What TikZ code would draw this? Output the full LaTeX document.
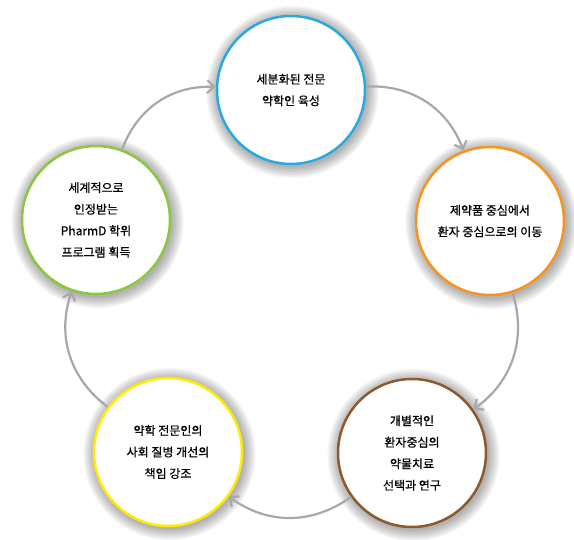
\documentclass[tikz,border=0pt]{standalone}
\usepackage{fontspec}
\setmainfont{Noto Sans CJK KR}[FakeBold=0.8]
\usepackage{xcolor}
\usetikzlibrary{arrows.meta,backgrounds}

\definecolor{ringblue}{HTML}{29A9E1}
\definecolor{ringorange}{HTML}{F7931E}
\definecolor{ringbrown}{HTML}{8C5A2C}
\definecolor{ringyellow}{HTML}{FFEC00}
\definecolor{ringgreen}{HTML}{8DC63F}
\definecolor{flowgray}{HTML}{A8A8A8}

\begin{document}
\begin{tikzpicture}[
        x=1pt, y=1pt,
        every node/.style={font=\fontsize{12}{21.5}\selectfont},
        stage/.style={
            circle,
            line width=2.5pt,
            fill=white,
            align=center,
            inner sep=0pt,
            minimum size=148pt
        },
        halo/.style={fill=black, opacity=0.045},
        arrow/.style={-{Straight Barb[length=7pt,width=13pt]}, line width=2.2pt, draw=flowgray, bend left=36}
    ]
        \useasboundingbox (-291,-253) rectangle (283,287);

        \node[stage, draw=ringblue] (special) at (0,197) {세분화된 전문\\약학인 육성};
        \node[stage, draw=ringorange] (patient) at (199,66) {제약품 중심에서\\환자 중심으로의 이동};
        \node[stage, draw=ringbrown] (therapy) at (121,-166) {개별적인\\환자중심의\\약물치료\\선택과 연구};
        \node[stage, draw=ringyellow] (social) at (-123,-165) {약학 전문인의\\사회 질병 개선의\\책임 강조};
        \node[stage, draw=ringgreen] (pharmd) at (-195,67) {세계적으로\\인정받는\\PharmD 학위\\프로그램 획득};

        % Soft shadows
        \begin{scope}[on background layer]
            \foreach \n in {special,patient,therapy,social,pharmd}
                \foreach \r in {1.5,3,...,12}
                    \fill[halo] ([shift={(1.5,-2)}]\n.center) circle[radius=74+\r];
        \end{scope}

        % Cycle
        \draw[arrow] (pharmd) to (special);
        \draw[arrow] (special) to (patient);
        \draw[arrow] (patient) to (therapy);
        \draw[arrow] (therapy) to (social);
        \draw[arrow] (social) to (pharmd);

    \end{tikzpicture}
\end{document}
